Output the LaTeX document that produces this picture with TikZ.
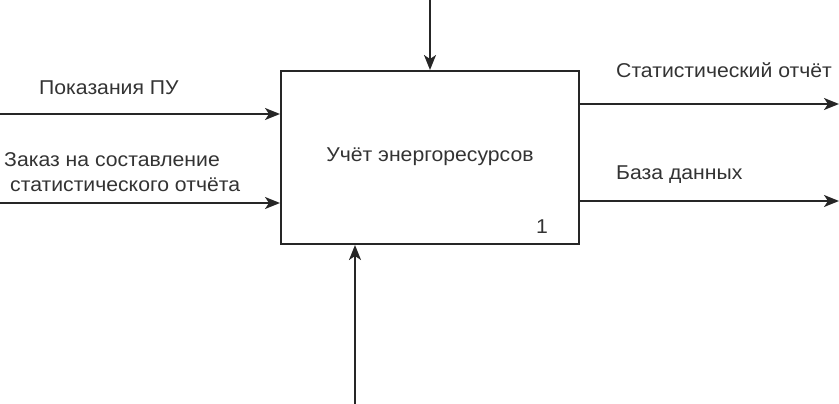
\documentclass[tikz,border=0pt]{standalone}
\usepackage{fontspec}
\setmainfont[FakeStretch=1.06]{Liberation Sans}
\usetikzlibrary{arrows.meta}
\begin{document}
\begin{tikzpicture}[x=1pt,y=-1pt,
  lbl/.style={font=\fontsize{20}{24}\selectfont, text=black!80, inner sep=0pt},
  flow/.style={draw=black!85, line width=2pt, -{Stealth[length=15pt,width=12pt,inset=4pt]}}]
\useasboundingbox (0,0) rectangle (839,404);
\node[draw=black!85, line width=2pt, minimum width=298pt, minimum height=173pt, anchor=north west, inner sep=0pt] (box) at (280,70) {};
\node[lbl] (title) at (430,157) {Учёт энергоресурсов};
\node[lbl] (num) at (542,227) {1};
% left inputs
\coordinate (in1) at (0,114);
\coordinate (in2) at (0,203);
\draw[flow] (in1) -- (box.west |- in1);
\draw[flow] (in2) -- (box.west |- in2);
\node[lbl, anchor=west] (l1) at (39,88) {Показания ПУ};
\node[lbl, anchor=west] (l2a) at (4,160) {Заказ на составление};
\node[lbl, anchor=west] (l2b) at (10,185) {статистического отчёта};
% right outputs
\coordinate (out1) at (839,104);
\coordinate (out2) at (839,201);
\draw[flow] (box.east |- out1) -- (out1);
\draw[flow] (box.east |- out2) -- (out2);
\node[lbl, anchor=west] (r1) at (616,70) {Статистический отчёт};
\node[lbl, anchor=west] (r2) at (616,175) {База данных};
% control and mechanism
\coordinate (ctl) at (430,0);
\coordinate (mech) at (355,404);
\draw[flow] (ctl) -- (box.north -| ctl);
\draw[flow] (mech) -- (box.south -| mech);
\end{tikzpicture}
\end{document}
